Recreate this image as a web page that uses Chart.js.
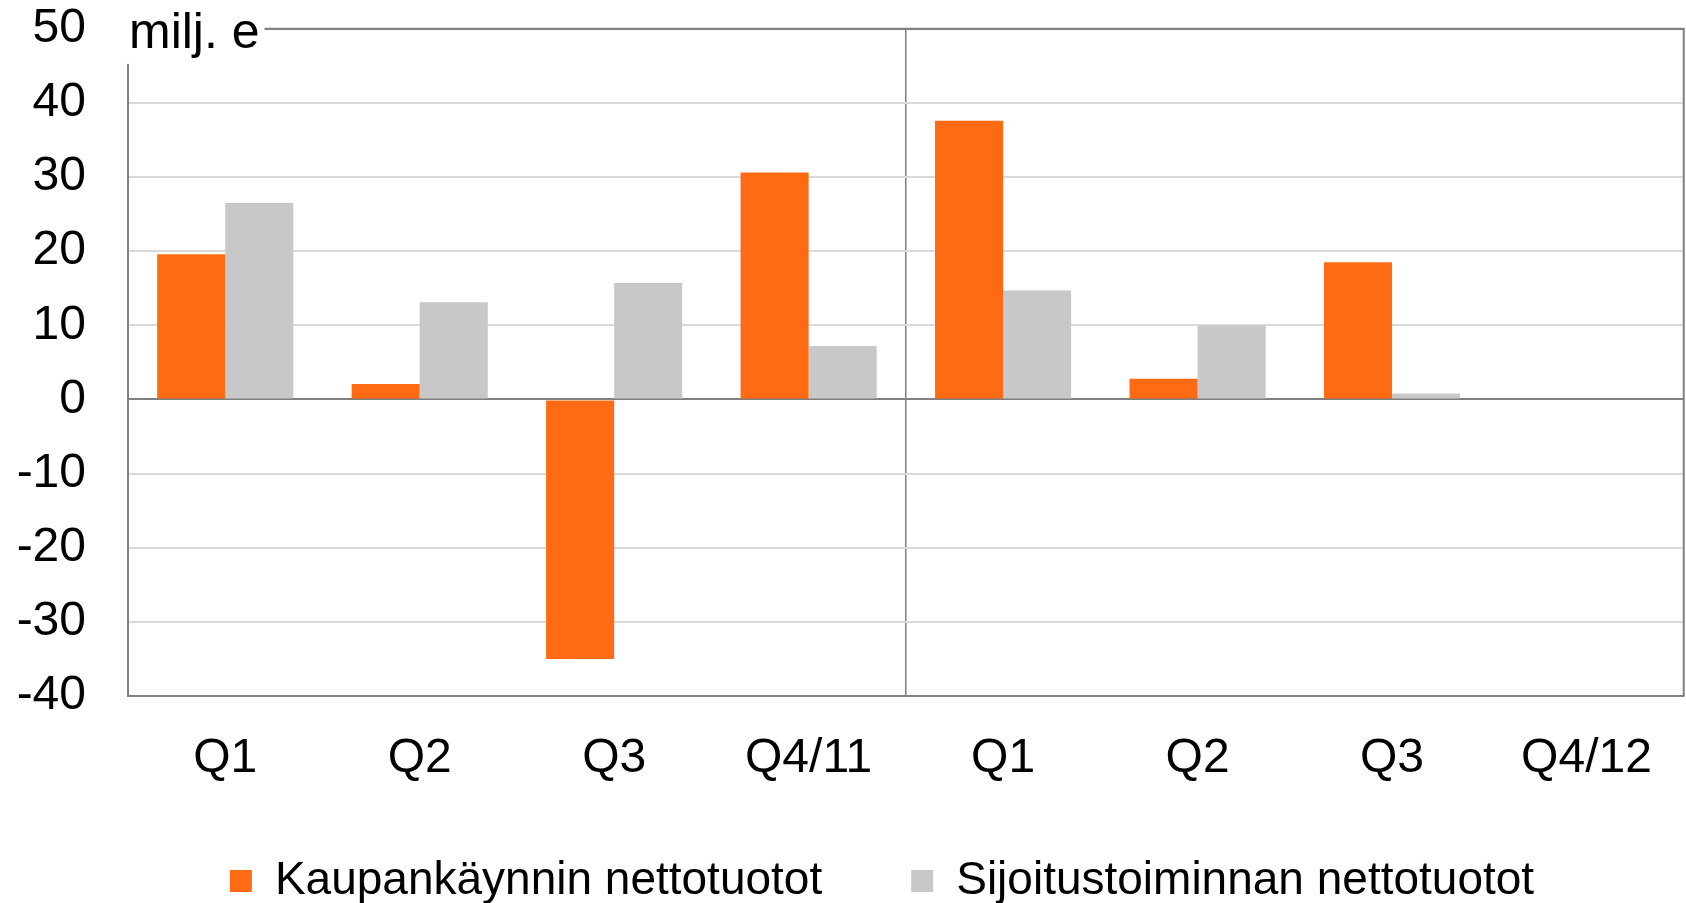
<!DOCTYPE html>
<html lang="fi">
  <head>
    <meta charset="UTF-8" />
    <title>Nettotuotot</title>
    <script src="https://cdn.jsdelivr.net/npm/chart.js"></script>
    <style>
      html, body { margin: 0; padding: 0; background: #fff; }
      #wrap { width: 1686px; height: 903px; }
    </style>
  </head>
  <body>
    <div id="wrap"><canvas id="chart" width="1686" height="903"></canvas></div>
    <script>
      // quarters 2011 and 2012
      var quarters = ["Q1", "Q2", "Q3", "Q4/11", "Q1", "Q2", "Q3", "Q4/12"];
      var kaupankaynti = [19.6, 2.1, -35.0, 30.6, 37.6, 2.8, 18.5, null];
      var sijoitus = [26.5, 13.1, 15.7, 7.2, 14.7, 10.0, 0.8, null];
      var unitLabel = "milj. e";

      var FONT = "'Liberation Sans', Arial, sans-serif";
      var frameColor = "#808080";
      var legendGap = 89;

      // frame on top/right, unit label over the top-left corner, legend placement
      var framePlugin = {
        id: "frame",
        beforeLayout: function (chart) {
          var leg = chart.legend;
          if (leg && !leg._fixed) {
            var fit = leg.fit;
            leg.fit = function () {
              fit.call(this);
              this.height = 108;
            };
            leg._fixed = true;
          }
        },
        afterLayout: function (chart) {
          var leg = chart.legend;
          leg.top -= 26;
          leg.left += 40;
          leg.right += 40;
        },
        afterDraw: function (chart) {
          var ctx = chart.ctx;
          var a = chart.chartArea;
          ctx.save();
          ctx.strokeStyle = frameColor;
          ctx.lineWidth = 2;
          ctx.beginPath();
          ctx.moveTo(a.left, a.top);
          ctx.lineTo(a.right, a.top);
          ctx.lineTo(a.right, a.bottom);
          ctx.stroke();
          ctx.font = "50px " + FONT;
          var w = ctx.measureText(unitLabel).width;
          ctx.fillStyle = "#fff";
          ctx.fillRect(a.left - 4, 0, w + 10, a.top + 35);
          ctx.fillStyle = "#000";
          ctx.textBaseline = "alphabetic";
          ctx.fillText(unitLabel, a.left + 1, a.top + 19);
          ctx.restore();
        },
      };

      new Chart(document.getElementById("chart").getContext("2d"), {
        type: "bar",
        data: {
          labels: quarters,
          datasets: [
            {
              label: "Kaupankäynnin nettotuotot",
              data: kaupankaynti,
              backgroundColor: "#ff6b13",
              categoryPercentage: 0.7,
              barPercentage: 1.0,
            },
            {
              label: "Sijoitustoiminnan nettotuotot",
              data: sijoitus,
              backgroundColor: "#c8c8c8",
              categoryPercentage: 0.7,
              barPercentage: 1.0,
            },
          ],
        },
        options: {
          responsive: false,
          animation: false,
          layout: { padding: { top: 0, right: 2, left: 0, bottom: 0 } },
          plugins: {
            tooltip: { enabled: false },
            legend: {
              position: "bottom",
              labels: {
                color: "#000",
                font: { family: FONT, size: 46 },
                boxWidth: 22,
                boxHeight: 22,
                padding: legendGap,
              },
            },
          },
          scales: {
            x: {
              afterFit: function (s) { s.height = 99; },
              grid: {
                offset: true,
                drawTicks: false,
                lineWidth: 1.5,
                color: function (c) {
                  return c.index === 4 ? frameColor : "rgba(0,0,0,0)";
                },
              },
              border: { display: true, color: frameColor, width: 2 },
              ticks: {
                color: "#000",
                padding: 34,
                font: { family: FONT, size: 48 },
                maxRotation: 0,
                autoSkip: false,
              },
            },
            y: {
              min: -40,
              max: 50,
              afterFit: function (s) { s.width = 128; },
              ticks: {
                stepSize: 10,
                color: "#000",
                padding: 0,
                font: { family: FONT, size: 48 },
              },
              grid: {
                drawTicks: true,
                tickLength: 42,
                tickColor: "rgba(0,0,0,0)",
                lineWidth: 2,
                color: function (c) {
                  if (c.tick && (c.tick.value === 0 || c.tick.value === 50)) return frameColor;
                  return "#d9d9d9";
                },
              },
              border: { display: true, color: frameColor, width: 2 },
            },
          },
        },
        plugins: [framePlugin],
      });
    </script>
  </body>
</html>
